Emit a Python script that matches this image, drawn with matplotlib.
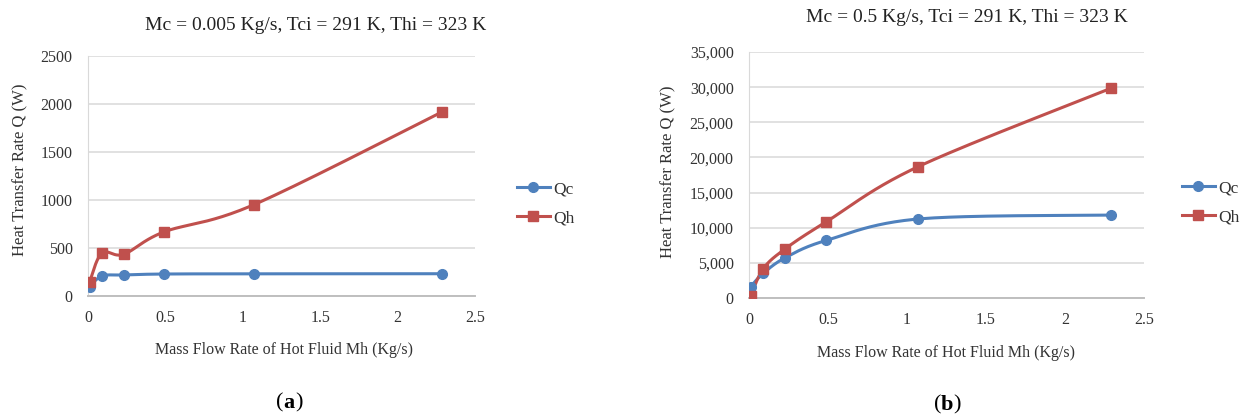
import numpy as np
import matplotlib
matplotlib.use("Agg")
import matplotlib.pyplot as plt
from matplotlib.ticker import FuncFormatter
from matplotlib.lines import Line2D

# %% data
mh = [0.01, 0.09, 0.23, 0.49, 1.07, 2.29]

qc_a = [97, 208, 219, 229, 231, 232]
qh_a = [146, 448, 434, 667, 950, 1920]

qc_b = [1610, 3510, 5740, 8200, 11240, 11800]
qh_b = [240, 4170, 7010, 10860, 18680, 29830]

titles = ["Mc = 0.005 Kg/s, Tci = 291 K, Thi = 323 K",
          "Mc = 0.5 Kg/s, Tci = 291 K, Thi = 323 K"]
panel_tags = ["a", "b"]

blue = "#4F81BD"
red = "#C0504D"
serif = ["Liberation Serif", "DejaVu Serif"]

plt.rcParams["font.family"] = serif


def smooth(x, y, n=40):
    # excel-like smoothed line: catmull-rom through the points
    p = np.column_stack([x, y]).astype(float)
    p = np.vstack([p[0], p, p[-1]])
    out = []
    t = np.linspace(0, 1, n)[:, None]
    for i in range(1, len(p) - 2):
        p0, p1, p2, p3 = p[i - 1], p[i], p[i + 1], p[i + 2]
        c1 = p1 + (p2 - p0) / 6
        c2 = p2 - (p3 - p1) / 6
        seg = ((1 - t) ** 3) * p1 + 3 * ((1 - t) ** 2) * t * c1 \
            + 3 * (1 - t) * t ** 2 * c2 + t ** 3 * p2
        out.append(seg)
    out = np.vstack(out)
    return out[:, 0], out[:, 1]


W, H = 1247, 420
fig = plt.figure(figsize=(W / 100, H / 100), dpi=100)


def px(x, y):
    return x / W, 1 - y / H


ax_a = fig.add_axes([88 / W, (H - 296) / H, 387 / W, 240 / H])
ax_b = fig.add_axes([749 / W, (H - 298) / H, 395 / W, 246 / H])

setup = [
    (ax_a, qc_a, qh_a, 2500, 500, (316, 25), (284, 350), (20, 170), (289, 403), (517, 181)),
    (ax_b, qc_b, qh_b, 35000, 5000, (967, 18), (946, 353), (668, 172), (947, 405), (1182, 180)),
]

for i, (ax, qc, qh, ymax, ystep, tpos, xlpos, ylpos, tagpos, legpos) in enumerate(setup):
    for vals, col, mk, ms in [(qc, blue, "o", 7), (qh, red, "s", 7)]:
        sx, sy = smooth(mh, vals)
        ax.plot(sx, sy, color=col, lw=2.2, solid_capstyle="round", zorder=3)
        ax.plot(mh, vals, ls="none", marker=mk, ms=ms, color=col, zorder=4)

    ax.set_xlim(0, 2.5)
    ax.set_ylim(0, ymax)
    ax.set_xticks(np.arange(0, 2.51, 0.5))
    ax.set_yticks(np.arange(0, ymax + 1, ystep))
    ax.xaxis.set_major_formatter(FuncFormatter(lambda v, p: f"{v:g}"))
    if ymax > 10000:
        ax.yaxis.set_major_formatter(FuncFormatter(lambda v, p: f"{int(v):,}"))
    ax.grid(axis="y", color="#D9D9D9", lw=1.1)
    ax.set_axisbelow(True)
    for s in ["top", "right"]:
        ax.spines[s].set_visible(False)
    ax.spines["left"].set_color("#D9D9D9")
    ax.spines["bottom"].set_color("#BFBFBF")
    ax.spines["bottom"].set_linewidth(1.4)
    ax.tick_params(length=0, labelsize=11.5, colors="#333333")
    ax.tick_params(axis="y", pad=11)
    ax.tick_params(axis="x", pad=10)

    fig.text(*px(*tpos), titles[i], ha="center", va="center", fontsize=14, color="#222222")
    fig.text(*px(*xlpos), "Mass Flow Rate of Hot Fluid Mh (Kg/s)", ha="center",
             va="center", fontsize=11.5, color="#333333")
    fig.text(*px(*ylpos), "Heat Transfer Rate Q (W)", ha="center", va="center",
             rotation=90, fontsize=12, color="#333333")

    tx, ty = px(*tagpos)
    fig.text(tx, ty, panel_tags[i], ha="center", va="center", fontsize=16,
             fontweight="bold", color="black")
    fig.text(tx - 6 / W, ty, "(", ha="right", va="center", fontsize=16, color="black")
    fig.text(tx + 6 / W, ty, ")", ha="left", va="center", fontsize=16, color="black")

    handles = [Line2D([], [], color=blue, lw=2.2, marker="o", ms=7),
               Line2D([], [], color=red, lw=2.2, marker="s", ms=7)]
    ax.legend(handles, ["Qc", "Qh"], loc="upper left", bbox_to_anchor=px(*legpos),
              bbox_transform=fig.transFigure, frameon=False, fontsize=12.5,
              handlelength=1.9, handletextpad=0.2, labelspacing=0.75, borderpad=0,
              borderaxespad=0, labelcolor="#333333")

fig.savefig("out.png", dpi=100)
